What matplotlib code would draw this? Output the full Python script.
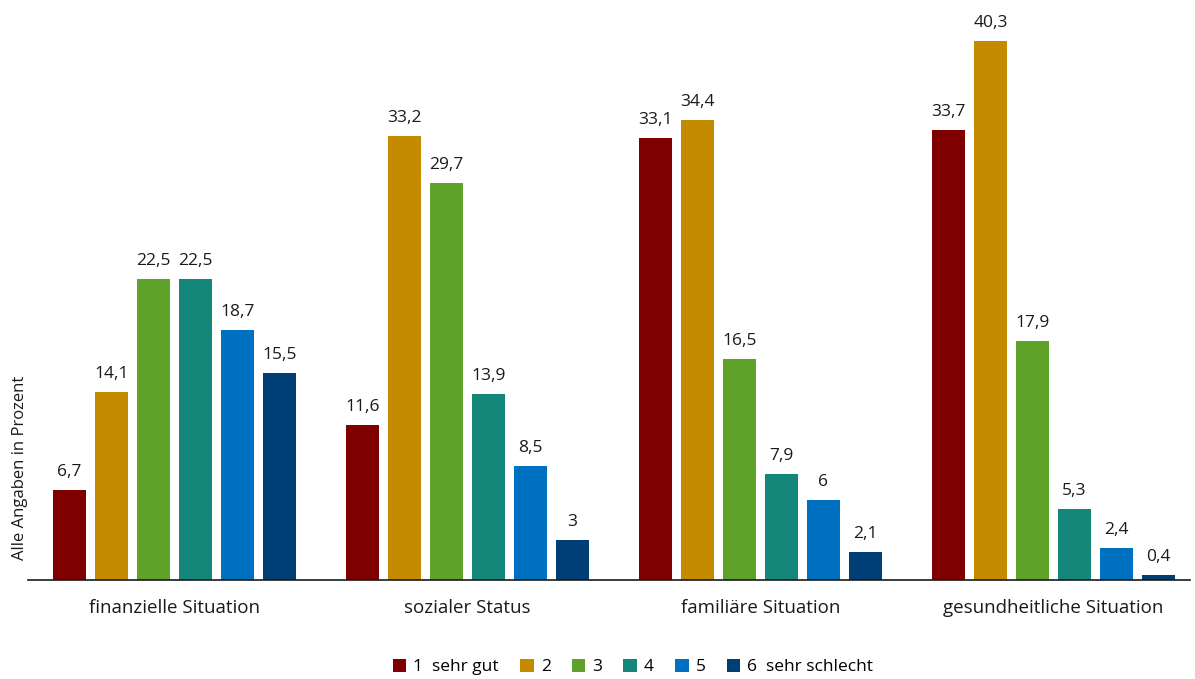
import numpy as np
import matplotlib.pyplot as plt
from matplotlib.patches import Patch

plt.rcParams["font.family"] = ["Open Sans", "DejaVu Sans"]

categories = ["finanzielle Situation", "sozialer Status", "familiäre Situation",
              "gesundheitliche Situation"]
series_names = ["1  sehr gut", "2", "3", "4", "5", "6  sehr schlecht"]
values = [
    [6.7, 11.6, 33.1, 33.7],
    [14.1, 33.2, 34.4, 40.3],
    [22.5, 29.7, 16.5, 17.9],
    [22.5, 13.9, 7.9, 5.3],
    [18.7, 8.5, 6.0, 2.4],
    [15.5, 3.0, 2.1, 0.4],
]
colors = ["#7f0000", "#c48a00", "#5fa22a", "#15877a", "#0070c0", "#003f75"]


def fmt(v):
    # German decimal comma, whole numbers without decimals
    return f"{v:g}".replace(".", ",")


fig = plt.figure(figsize=(11.95, 6.79), dpi=100)
ax = fig.add_axes([28 / 1195, 99 / 679, 1162 / 1195, 580 / 679])

x = np.arange(len(categories))
step = 0.1433
width = 0.113
for i, (name, vals) in enumerate(zip(series_names, values)):
    pos = x + (i - 2.5) * step
    ax.bar(pos, vals, width=width, color=colors[i], label=name)
    for p, v in zip(pos, vals):
        ax.text(p, v + 0.75, fmt(v), ha="center", va="bottom", fontsize=12.5,
                color="#1a1a1a")

ax.set_xlim(-0.5, 3.466)
ax.set_ylim(0, 43.4)
ax.set_yticks([])
ax.set_xticks(x)
ax.set_xticklabels(categories, fontsize=13.5, color="#1a1a1a")
ax.tick_params(axis="x", length=0, pad=14)
for s in ["top", "right", "left"]:
    ax.spines[s].set_visible(False)
ax.spines["bottom"].set_color("#1a1a1a")
ax.spines["bottom"].set_linewidth(1.2)

fig.text(20 / 1195, 1 - 468 / 679, "Alle Angaben in Prozent", rotation=90,
         ha="center", va="center", fontsize=12, color="#1a1a1a")

handles = [Patch(facecolor=c) for c in colors]
fig.legend(handles, series_names, loc="center", bbox_to_anchor=(633 / 1195, 1 - 667 / 679),
           ncol=6, frameon=False, fontsize=12.5, handlelength=0.8, handleheight=0.8,
           handletextpad=0.4, columnspacing=1.2)

fig.savefig("out.png", dpi=100)
